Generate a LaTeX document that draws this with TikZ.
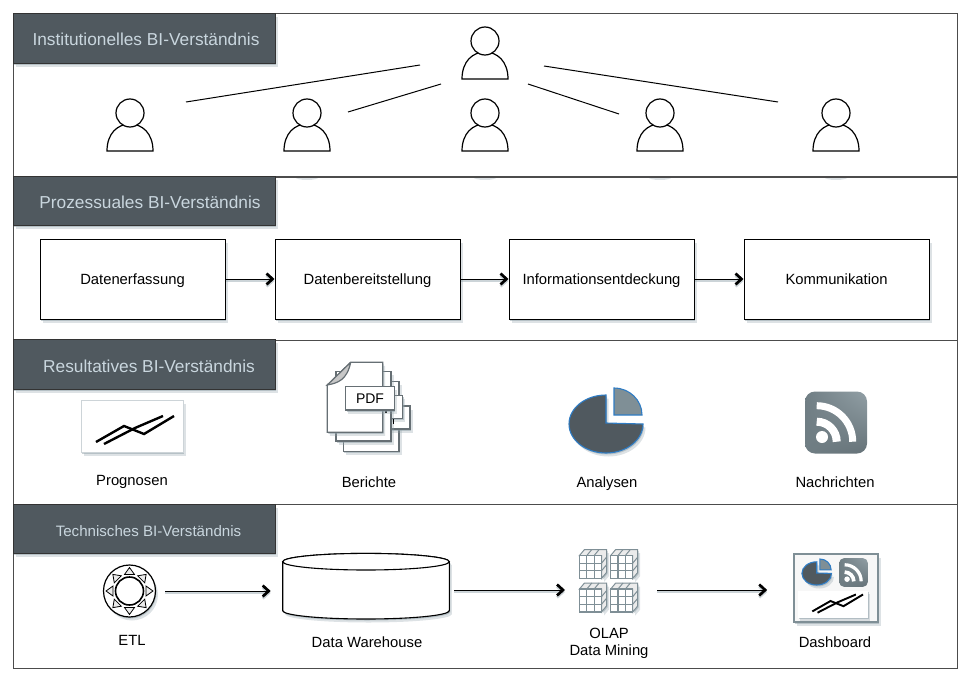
\documentclass[tikz,border=0pt]{standalone}
\usepackage{fontspec}
\setmainfont{Liberation Sans}
\usetikzlibrary{arrows.meta,shadows,shadings}

\definecolor{headfill}{HTML}{50595F}
\definecolor{headtext}{HTML}{C9D6DE}
\definecolor{iconblue}{HTML}{2F7CC4}
\definecolor{icongrey}{HTML}{7F8F96}
\definecolor{pagegrey}{HTML}{666F74}
\definecolor{softshadow}{HTML}{8FA0A8}

\tikzset{
  softdrop/.style={
    drop shadow={shadow xshift=2.5pt,shadow yshift=-3.5pt,fill=softshadow,opacity=.3},
    drop shadow={shadow xshift=1pt,shadow yshift=-1.5pt,fill=softshadow,opacity=.5}},
  layer/.style={draw=black!70,line width=.8pt,minimum width=944pt,minimum height=164pt},
  head/.style={draw=black!80,line width=1pt,fill=headfill,softdrop,minimum width=262pt,minimum height=49.5pt},
  headlabel/.style={text=headtext,font=\fontsize{17.3}{19}\selectfont,text height=12pt,text depth=0pt},
  procbox/.style={draw=black,line width=1pt,fill=white,softdrop,minimum width=185pt,minimum height=80pt,
    font=\fontsize{14.8}{17}\selectfont,text height=11pt,text depth=0pt},
  caption/.style={font=\fontsize{14.8}{17}\selectfont,text height=11pt,text depth=0pt},
  pagesheet/.style={draw=pagegrey,line width=1.2pt,fill=white},
  arrowline/.style={draw=black,line width=1pt,
    preaction={draw=softshadow,opacity=.45,line width=2pt,transform canvas={yshift=-2pt}},
    -{Straight Barb[length=6pt,width=11pt,line width=2.7pt]}},
  pics/person/.style={code={
    \draw[line width=1.2pt,fill=white] (-23,38) .. controls (-23,20) and (-12,11) .. (0,11)
       .. controls (12,11) and (23,20) .. (23,38) -- cycle;
    \draw[line width=1.2pt,fill=white] (0,0) circle (14);
  }},
  pics/chartlines/.style={code={
    \draw[line width=1pt+#1*1.4pt] (-36*#1,16*#1) -- (-8*#1,0) -- (12*#1,8*#1) -- (42*#1,-10*#1);
    \draw[line width=1pt+#1*1.4pt] (-28*#1,18*#1) -- (3*#1,2*#1) -- (31*#1,-10*#1);
  }},
  pics/piechart/.style={code={
    \draw[draw=iconblue,line width=1.1pt,fill=headfill,softdrop]
      (0,0) -- (0,-28*#1) arc[start angle=270,end angle=0,x radius=37*#1,y radius=29*#1] -- cycle;
    \draw[draw=iconblue,line width=1.1pt,fill=icongrey]
      (8*#1,-8*#1) -- (8*#1,-35*#1) arc[start angle=270,end angle=360,x radius=28*#1,y radius=27*#1] -- cycle;
  }},
  pics/rssicon/.style={code={
    \shade[rounded corners=10pt*#1,lower left=icongrey!88!black,lower right=icongrey!80!black,
      upper left=icongrey!88!black,upper right=icongrey!85!white]
      (-31*#1,-31*#1) rectangle (31*#1,31*#1);
    \fill[white] (-14*#1,14.5*#1) circle (6*#1);
    \draw[white,line width=#1*8pt] (-19.3*#1,-.8*#1) arc[start angle=270,end angle=360,radius=20*#1];
    \draw[white,line width=#1*7pt] (-19.3*#1,-16.8*#1) arc[start angle=270,end angle=360,radius=36*#1];
  }},
  pics/olapcube/.style={code={
    \draw[draw=icongrey,line width=1pt,fill=black!8,softdrop] (0,6) -- (5,0) -- (27,0) -- (27,23) -- (22,29) -- (22,6) -- cycle;
    \foreach \i in {1,2}{
      \draw[draw=icongrey,line width=1pt] (\i*7.33,6) -- (\i*7.33+5,0);
      \draw[draw=icongrey,line width=1pt] (22,6+\i*7.67) -- (27,\i*7.67);
    }
    \draw[draw=icongrey,line width=1.3pt,fill=white] (0,6) rectangle (22,29);
    \foreach \i in {1,2}{
      \draw[draw=icongrey,line width=1.2pt] (\i*7.33,6) -- (\i*7.33,29);
      \draw[draw=icongrey,line width=1.2pt] (0,6+\i*7.67) -- (22,6+\i*7.67);
    }
  }}
}

\begin{document}
\begin{tikzpicture}[x=1pt,y=-1pt]

  \useasboundingbox (0,0) rectangle (969,685);

  \foreach \x in {307,485,660,836}
    \fill[softshadow,opacity=.3] (\x,177) ellipse (12 and 3);

  \begin{scope}[every node/.style={layer,fill=white}]
    \node (layerA) at (485,95)  {};
  \end{scope}
  \begin{scope}[every node/.style={layer}]
    \node (layerB) at (485,258) {};
    \node (layerC) at (485,422) {};
    \node (layerD) at (485,586) {};
  \end{scope}

  \node[head] (headA) at (144,38.5)  {};
  \node[head] (headB) at (144,201)   {};
  \node[head] (headC) at (144,364.5) {};
  \node[head] (headD) at (144,529)   {};

  \begin{scope}[every node/.style={headlabel}]
    \node (labelA) at (146,40)    {Institutionelles BI-Verständnis};
    \node (labelB) at (150,202)   {Prozessuales BI-Verständnis};
    \node (labelC) at (149,366)   {Resultatives BI-Verständnis};
    \node[font=\fontsize{15.1}{17}\selectfont] (labelD) at (148.5,530) {Technisches BI-Verständnis};
  \end{scope}

  \pic (leader) at (485,41) {person};
  \foreach \x/\n in {130/A,307/B,485/C,660/D,836/E}
    \pic (staff\n) at (\x,113) {person};

  \coordinate (lineAa) at (186,102);
  \coordinate (lineAb) at (420,65);
  \coordinate (lineBa) at (348,112);
  \coordinate (lineBb) at (441,84);
  \coordinate (lineCa) at (528,84);
  \coordinate (lineCb) at (619,114);
  \coordinate (lineDa) at (544,66);
  \coordinate (lineDb) at (778,102);

  \begin{scope}[every edge/.style={draw,line width=1pt}]
    \path (lineAa) edge (lineAb);
    \path (lineBa) edge (lineBb);
    \path (lineCa) edge (lineCb);
    \path (lineDa) edge (lineDb);
  \end{scope}

  \begin{scope}[every node/.style={procbox}]
    \node (erfassung)  at (132.5,279) {Datenerfassung};
    \node (bereitung)  at (367.5,279) {Datenbereitstellung};
    \node (entdeckung) at (601.5,279) {Informationsentdeckung};
    \node (kommunik)   at (836.5,279) {Kommunikation};
  \end{scope}

  \draw[arrowline] (erfassung)  -- (bereitung);
  \draw[arrowline] (bereitung)  -- (entdeckung);
  \draw[arrowline] (entdeckung) -- (kommunik);

  % resultate
  \node[fill=white,draw=softshadow!45,line width=1pt,softdrop,minimum width=102pt,minimum height=52pt] (prognose) at (132,426) {};
  \pic at (132,426) {chartlines=1};

  \draw[pagesheet,softdrop] (343.3,381.7) rectangle (399,451.7);
  \draw[pagesheet,softdrop] (345,406) rectangle (410,429);
  \draw[pagesheet,softdrop] (345,395.7) rectangle (402.7,418.3);
  \draw[pagesheet,softdrop] (336,371.7) rectangle (391,441);
  \draw[line width=1.2pt] (386,409) -- (386,413);
  \draw[line width=1.2pt] (393.3,419) -- (393.3,424);
  \draw[pagesheet,softdrop] (350.7,362.3) -- (382.7,362.3) -- (382.7,432.3) -- (327.3,432.3) -- (327.3,385) -- cycle;
  \draw[pagesheet,fill=black!22] (350.7,362.3) -- (327.3,385) .. controls (338,383) and (347,380) .. (350.7,362.3);
  \node[pagesheet,softdrop,minimum width=48.6pt,minimum height=23.3pt,font=\fontsize{14}{16}\selectfont] (pdf) at (370,398.4) {PDF};

  \pic at (606,423) {piechart=1};
  \pic at (836,422.5) {rssicon=1};

  \begin{scope}[every node/.style={caption}]
    \node (prognosen)   at (132,480) {Prognosen};
    \node (berichte)    at (369,482) {Berichte};
    \node (analysen)    at (607,482) {Analysen};
    \node (nachrichten) at (835,482) {Nachrichten};
    \node (etllabel)    at (132,640) {ETL};
    \node (dwhlabel)    at (367,642) {Data Warehouse};
    \node (olaplabel)   at (609,633) {OLAP};
    \node (minelabel)   at (609,650) {Data Mining};
    \node (dashlabel)   at (835,642) {Dashboard};
  \end{scope}

  % technik
  \node[circle,draw=black,line width=1.2pt,fill=white,softdrop,minimum size=52pt,inner sep=0pt] (etl) at (129.5,591) {};
  \foreach \a in {0,45,...,315}
    \draw[line width=.8pt,fill=black!8,rotate around={\a:(129.5,591)}]
      (146,586) -- (153,591) -- (146,596) -- cycle;
  \node[circle,draw=black,line width=1.6pt,fill=white,minimum size=28pt,inner sep=0pt] (etlhole) at (129.5,591) {};

  \node[minimum width=166.6pt,minimum height=65.7pt,inner sep=0pt,outer sep=0pt] (dwh) at (366,586.2) {};
  \draw[line width=1.1pt,fill=white,softdrop] (282.7,561.7) -- (282.7,610.7)
    arc[start angle=180,end angle=0,x radius=83.3,y radius=8.3] -- (449.3,561.7)
    arc[start angle=0,end angle=-180,x radius=83.3,y radius=8.3] -- cycle;
  \draw[line width=1.1pt,fill=white] (366,561.7) ellipse (83.3 and 8.3);

  \coordinate (olap) at (609.5,590);
  \foreach \x/\y in {579.5/549.5,610.7/549.5,579.5/583,610.7/583}
    \pic at (\x,\y) {olapcube};

  \node[draw=icongrey,line width=2.2pt,fill=black!3,softdrop,minimum width=84pt,minimum height=68pt] (dash) at (836.3,588.3) {};
  \pic at (816.7,573) {piechart=.4};
  \pic at (853.5,572.5) {rssicon=.46};
  \node[fill=white,softdrop,minimum width=70pt,minimum height=26.7pt] (dashchart) at (832.7,604.3) {};
  \pic at (835.7,601) {chartlines=.65};

  \draw[arrowline,shorten <=9pt,shorten >=12pt] (etl.east) -- (etl.east -| dwh.west);
  \draw[arrowline,shorten <=5pt,shorten >=44.5pt] (dwh.east |- olap) -- (olap);
  \draw[arrowline,shorten <=47.5pt,shorten >=26pt] (olap) -- (olap -| dash.west);

\end{tikzpicture}
\end{document}
